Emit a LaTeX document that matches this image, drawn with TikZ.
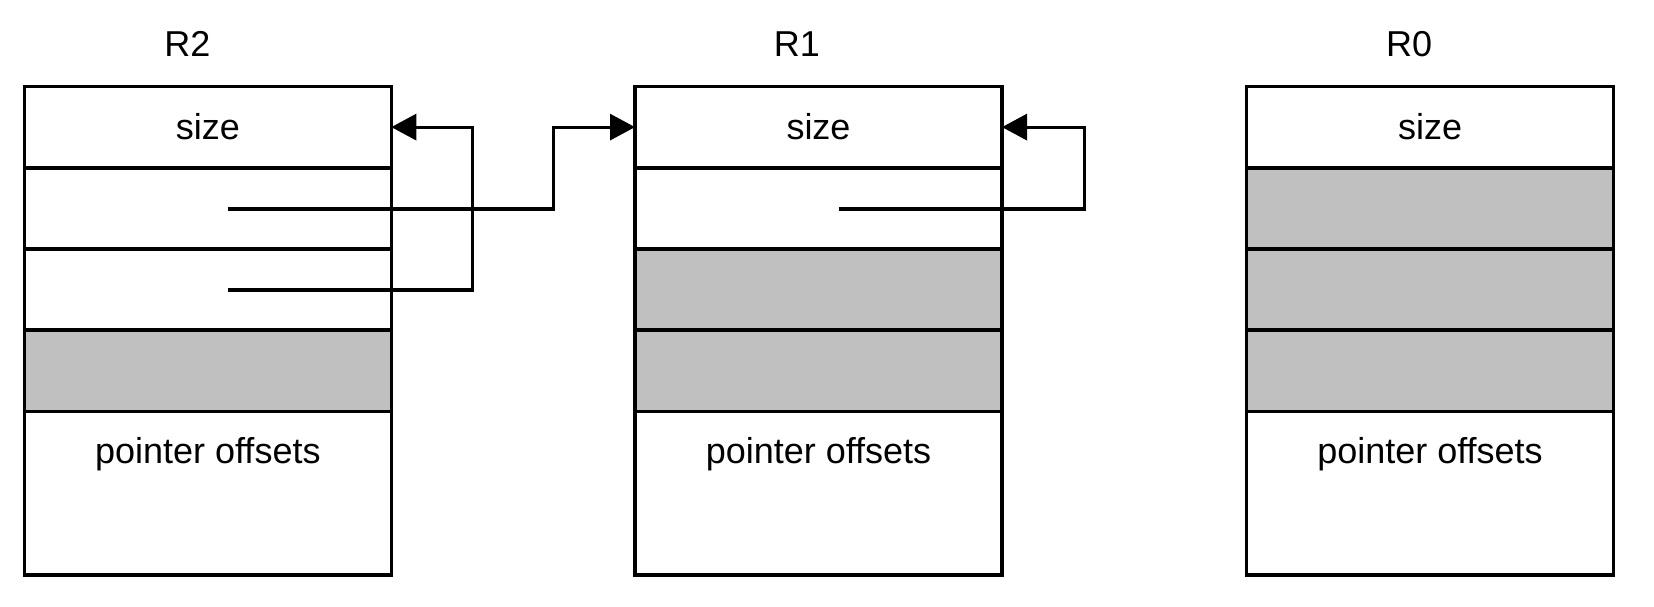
\documentclass[tikz,border=0pt]{standalone}
\usepackage{fontspec}
\setmainfont{Liberation Sans}
\usetikzlibrary{arrows.meta}
\begin{document}
\begin{tikzpicture}[x=0.5pt,y=-0.5pt,
  cell/.style={draw,line width=1.8pt,minimum width=183.5pt,minimum height=40.6pt,inner sep=0pt,outer sep=0pt},
  shaded/.style={cell,fill={rgb,255:red,192;green,192;blue,192}},
  tall/.style={cell,minimum height=81.8pt},
  txt/.style={anchor=base,inner sep=0pt,font=\fontsize{18}{22}\selectfont},
  conn/.style={line width=1.6pt,-{Triangle[length=12.5pt,width=13pt]}}]
\useasboundingbox (0,0) rectangle (1654,606);
% R2
\node[txt] (l2) at (187.5,56.7) {R2};
\node[cell] (r2a) at (207.8,127.1) {};
\node[cell] (r2b) at (207.8,208.35) {};
\node[cell] (r2c) at (207.8,289.5) {};
\node[shaded] (r2d) at (207.8,370.7) {};
\node[tall] (r2e) at (207.8,493.2) {};
\node[txt] (t2a) at (207.8,139.3) {size};
\node[txt] (t2e) at (207.8,463) {pointer offsets};
% R1
\node[txt] (l1) at (797,56.7) {R1};
\node[cell] (r1a) at (818.5,127.1) {};
\node[cell] (r1b) at (818.5,208.35) {};
\node[shaded] (r1c) at (818.5,289.5) {};
\node[shaded] (r1d) at (818.5,370.7) {};
\node[tall] (r1e) at (818.5,493.2) {};
\node[txt] (t1a) at (818.5,139.3) {size};
\node[txt] (t1e) at (818.5,463) {pointer offsets};
% R0
\node[txt] (l0) at (1409,56.7) {R0};
\node[cell] (r0a) at (1430,127.1) {};
\node[shaded] (r0b) at (1430,208.35) {};
\node[shaded] (r0c) at (1430,289.5) {};
\node[shaded] (r0d) at (1430,370.7) {};
\node[tall] (r0e) at (1430,493.2) {};
\node[txt] (t0a) at (1430,139.3) {size};
\node[txt] (t0e) at (1430,463) {pointer offsets};
% connectors
\coordinate (p1) at (227.8,208.9);
\coordinate (c1) at (553.8,208.9);
\coordinate (p2) at (227.8,290);
\coordinate (c2) at (472.6,290);
\coordinate (p3) at (838.6,208.9);
\coordinate (c3) at (1084.3,208.9);
\draw[conn] (p1) -- (c1) |- (r1a.west);
\draw[conn] (p2) -- (c2) |- (r2a.east);
\draw[conn] (p3) -- (c3) |- (r1a.east);
\end{tikzpicture}
\end{document}
